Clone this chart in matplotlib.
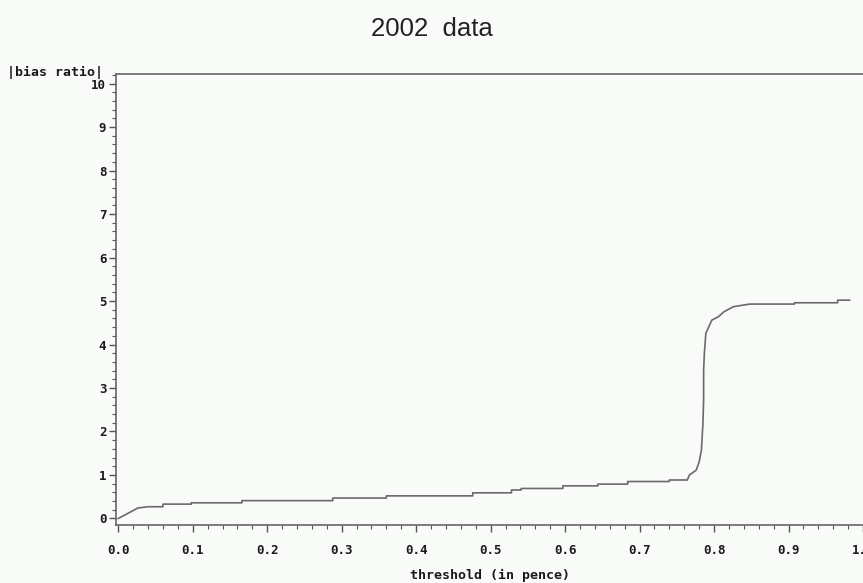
import numpy as np
import matplotlib.pyplot as plt
from matplotlib.ticker import MultipleLocator, FormatStrFormatter

# values
threshold = [0.0, 0.022, 0.026, 0.040, 0.060, 0.060, 0.098, 0.098, 0.166, 0.166,
             0.288, 0.288, 0.360, 0.360, 0.476, 0.476, 0.528, 0.528, 0.541, 0.541,
             0.597, 0.597, 0.644, 0.644, 0.684, 0.684, 0.740, 0.740, 0.764,
             0.767, 0.776, 0.780, 0.783, 0.785, 0.786, 0.786, 0.787, 0.789,
             0.793, 0.797, 0.806, 0.813, 0.826, 0.848, 0.908, 0.908, 0.966,
             0.966, 0.982]
bias_ratio = [0.0, 0.20, 0.24, 0.27, 0.27, 0.33, 0.33, 0.36, 0.36, 0.41,
              0.41, 0.47, 0.47, 0.52, 0.52, 0.59, 0.59, 0.655, 0.655, 0.69,
              0.69, 0.75, 0.75, 0.79, 0.79, 0.85, 0.85, 0.885, 0.885,
              1.0, 1.11, 1.30, 1.57, 2.15, 2.72, 3.40, 3.80, 4.26,
              4.41, 4.56, 4.64, 4.75, 4.87, 4.93, 4.93, 4.96, 4.96,
              5.02, 5.02]

bg = '#f8fbf8'
fig = plt.figure(figsize=(8.63, 5.83), dpi=100, facecolor=bg)
ax = fig.add_axes([116/863, 58/583, 747/863, 451/583], facecolor=bg)

ax.plot(threshold, bias_ratio, color='#6a6a6a', linewidth=1.2)

ax.set_xlim(-0.003, 1.0)
ax.set_ylim(-0.15, 10.22)
ax.xaxis.set_major_locator(MultipleLocator(0.1))
ax.xaxis.set_minor_locator(MultipleLocator(0.02))
ax.yaxis.set_major_locator(MultipleLocator(1))
ax.yaxis.set_minor_locator(MultipleLocator(0.2))
ax.xaxis.set_major_formatter(FormatStrFormatter('%.1f'))
ax.yaxis.set_major_formatter(FormatStrFormatter('%d'))

for s in ['left', 'bottom', 'top']:
    ax.spines[s].set_color('#666666')
    ax.spines[s].set_linewidth(1.2)
ax.spines['right'].set_visible(False)

ax.tick_params(axis='both', which='major', direction='out', length=5, width=1, color='#555555')
ax.tick_params(axis='both', which='minor', direction='out', length=3, width=0.8, color='#555555')
ax.tick_params(axis='x', pad=9)
ax.tick_params(axis='y', pad=2)
for lab in ax.get_xticklabels() + ax.get_yticklabels():
    lab.set_fontfamily('DejaVu Sans Mono')
    lab.set_fontweight('bold')
    lab.set_fontsize(9)
    lab.set_color('#1a1a1a')

ax.set_xlabel('threshold (in pence)', family='DejaVu Sans Mono', weight='bold',
              size=9.5, color='#1a1a1a', va='center')
ax.xaxis.set_label_coords(0.5, -0.111)
ax.set_ylabel('|bias ratio|', family='DejaVu Sans Mono', weight='bold',
              size=9.5, color='#1a1a1a', rotation=0, ha='center', va='center')
ax.yaxis.set_label_coords(-0.0817, 1.0044)

fig.text(0.5, 1 - 29/583, '2002  data', family='Liberation Sans', size=18.5,
         color='#222222', ha='center', va='center')

fig.savefig('out.png', dpi=100, facecolor=bg)
